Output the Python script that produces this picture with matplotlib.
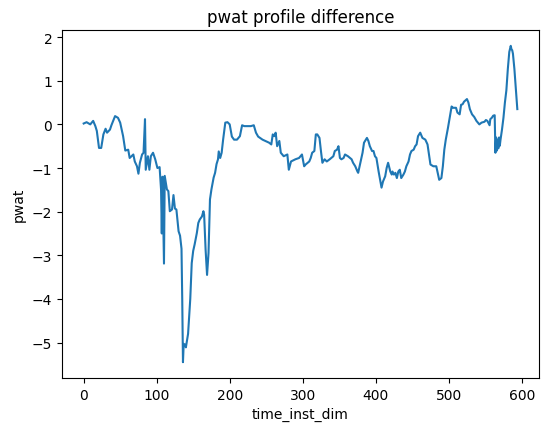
import matplotlib
matplotlib.use("Agg")
import matplotlib.pyplot as plt

# values (time index, pwat difference)
time_inst_dim = [
    0, 4, 9, 13, 16, 18, 21, 24, 27, 30, 32, 36, 38, 43, 47, 50, 54, 57, 61, 63,
    68, 70, 73, 75, 77, 80, 82, 84, 85, 88, 90, 92, 95, 98, 101, 104, 106, 107, 108, 110,
    111, 114, 116, 118, 121, 123, 125, 127, 130, 132, 134, 135, 136, 137, 139, 140, 143, 146, 148, 150,
    152, 155, 157, 159, 162, 164, 165, 167, 169, 171, 173, 175, 178, 180, 182, 184, 185, 187, 189, 191,
    194, 197, 200, 203, 206, 210, 214, 217, 220, 224, 229, 233, 236, 239, 245, 249, 254, 257, 259, 261,
    263, 265, 268, 270, 274, 279, 281, 284, 290, 295, 299, 302, 304, 309, 311, 313, 316, 318, 320, 323,
    325, 327, 330, 333, 337, 342, 344, 347, 349, 351, 353, 356, 358, 362, 367, 369, 372, 375, 376, 378,
    382, 384, 388, 390, 392, 395, 397, 399, 401, 404, 406, 408, 410, 413, 415, 417, 420, 422, 423, 425,
    427, 429, 431, 433, 435, 438, 440, 442, 445, 447, 449, 452, 454, 456, 458, 461, 464, 468, 471, 473,
    475, 479, 483, 485, 487, 490, 492, 494, 496, 499, 501, 504, 506, 510, 512, 515, 517, 519, 521, 525,
    527, 529, 532, 535, 538, 542, 545, 549, 551, 553, 556, 557, 559, 561, 563, 564, 565, 566, 567, 568,
    569, 570, 571, 573, 575, 577, 579, 581, 583, 585, 586, 587, 588, 590, 592, 594,
]
pwat = [
    0.02, 0.05, 0.0, 0.08, -0.04, -0.15, -0.54, -0.54, -0.23, -0.10, -0.19, -0.12, -0.02, 0.19, 0.15, 0.04, -0.27, -0.6, -0.58, -0.77,
    -0.69, -0.85, -0.96, -1.13, -0.88, -0.69, -0.65, 0.12, -1.04, -0.73, -1.04, -0.73, -0.65, -0.8, -1.0, -0.98, -1.5, -2.5, -1.2, -3.19,
    -1.18, -1.49, -1.53, -1.99, -1.95, -1.62, -1.93, -1.95, -2.45, -2.55, -2.85, -4.0, -5.45, -5.03, -5.05, -5.11, -4.8, -4.0, -3.18, -2.9,
    -2.75, -2.49, -2.26, -2.18, -2.11, -1.99, -2.07, -2.87, -3.45, -2.95, -1.72, -1.49, -1.22, -1.11, -0.91, -0.8, -0.62, -0.77, -0.65, -0.35,
    0.04, 0.05, 0.0, -0.28, -0.35, -0.35, -0.27, -0.02, -0.04, -0.04, -0.04, -0.02, -0.19, -0.28, -0.35, -0.38, -0.42, -0.46, -0.23, -0.27,
    -0.19, -0.5, -0.38, -0.65, -0.73, -0.69, -1.04, -0.85, -0.8, -0.77, -0.69, -0.96, -0.92, -0.85, -0.77, -0.65, -0.61, -0.23, -0.23, -0.31,
    -0.61, -0.88, -0.8, -0.85, -0.8, -0.73, -0.61, -0.58, -0.5, -0.77, -0.8, -0.77, -0.69, -0.73, -0.8, -0.88, -0.96, -1.08, -1.11, -0.96,
    -0.65, -0.42, -0.31, -0.38, -0.5, -0.61, -0.61, -0.73, -0.77, -1.08, -1.27, -1.45, -1.31, -1.19, -1.0, -0.88, -1.08, -1.15, -1.08, -1.15,
    -1.11, -1.23, -1.08, -1.04, -1.23, -1.15, -1.08, -0.96, -0.85, -0.69, -0.61, -0.58, -0.5, -0.46, -0.27, -0.19, -0.31, -0.35, -0.46, -0.69,
    -0.92, -0.96, -0.96, -1.11, -1.27, -1.23, -0.96, -0.58, -0.35, -0.08, 0.12, 0.41, 0.38, 0.38, 0.27, 0.23, 0.45, 0.46, 0.52, 0.58,
    0.5, 0.35, 0.23, 0.17, 0.08, 0.0, 0.04, 0.06, 0.1, 0.08, -0.02, 0.12, 0.15, 0.2, 0.21, -0.65, -0.3, -0.6, -0.35, -0.55,
    -0.3, -0.49, -0.35, -0.12, 0.15, 0.5, 0.78, 1.27, 1.66, 1.8, 1.72, 1.7, 1.62, 1.27, 0.81, 0.35,
]

fig = plt.figure(figsize=(5.41, 4.35), dpi=100)
ax = fig.add_subplot(111)
fig.subplots_adjust(left=0.1146, right=0.9963, bottom=0.1287, top=0.9287)

ax.plot(time_inst_dim, pwat)
ax.set_title("pwat profile difference")
ax.set_xlabel("time_inst_dim")
ax.set_ylabel("pwat")

fig.savefig("out.png", dpi=100)
